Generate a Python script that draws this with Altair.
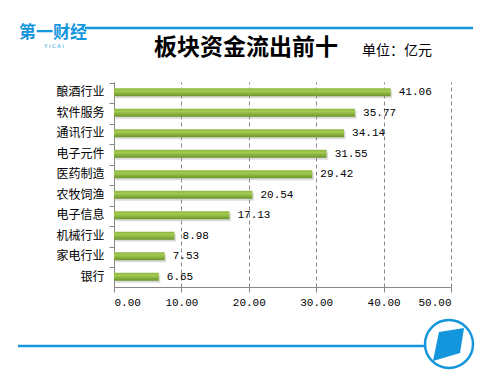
import altair as alt
import pandas as pd

categories = ["酿酒行业", "软件服务", "通讯行业", "电子元件", "医药制造",
              "农牧饲渔", "电子信息", "机械行业", "家电行业", "银行"]
values = [41.06, 35.77, 34.14, 31.55, 29.42, 20.54, 17.13, 8.98, 7.53, 6.65]
x_ticks = [0, 10, 20, 30, 40, 50]
title_text = "板块资金流出前十"
unit_text = "单位：亿元"
logo_text = "第一财经"
logo_sub = "Y I C A I"

df = pd.DataFrame({"cat": categories, "val": values,
                   "lab": [f"{v:.2f}" for v in values]})

W, H = 337, 205
BLUE = "#1496dc"
MONO = "Liberation Mono"
CJK = "Noto Sans CJK SC"

base = alt.Chart(df)

xenc = alt.X("val:Q", scale=alt.Scale(domain=[0, 50], nice=False),
             axis=alt.Axis(values=x_ticks, format=".2f", title=None,
                           grid=True, gridDash=[4, 3], gridColor="#888888",
                           domainColor="#888888", tickColor="#888888",
                           tickSize=5, labelFont=MONO, labelFontSize=11,
                           labelColor="#000000", labelPadding=4))
yenc = alt.Y("cat:N", sort=categories,
             axis=alt.Axis(title=None, grid=False, bandPosition=0,
                           domainColor="#888888",
                           tickColor="#888888", tickSize=5,
                           labelFont=CJK, labelFontSize=12,
                           labelColor="#000000", labelPadding=5))

shadow = base.mark_bar(size=8, yOffset=2, xOffset=1.5, color="#9a9a9a",
                       opacity=0.35).encode(x=xenc, y=yenc)

grad = alt.LinearGradient(
    gradient="linear",
    stops=[alt.GradientStop(color="#8db642", offset=0),
           alt.GradientStop(color="#a3ca50", offset=0.35),
           alt.GradientStop(color="#6a942b", offset=1)],
    x1=0, x2=0, y1=0, y2=1)

bars = base.mark_bar(size=8, color=grad).encode(x=xenc, y=yenc)

labels = base.mark_text(align="left", dx=8, font=MONO, fontSize=11,
                        color="#000000").encode(x="val:Q", y=alt.Y("cat:N", sort=categories), text="lab:N")

one = alt.Chart(alt.Data(values=[{"a": 1}]))

top_line = one.mark_rule(color=BLUE, strokeWidth=2.5).encode(
    x=alt.value(-29), x2=alt.value(359), y=alt.value(-54))
bottom_line = one.mark_rule(color=BLUE, strokeWidth=2.5).encode(
    x=alt.value(-96), x2=alt.value(311), y=alt.value(264))

title = one.mark_text(text=title_text, font=CJK, fontSize=23, fontWeight="bold",
                      color="#000000", align="center", baseline="middle").encode(
    x=alt.value(132), y=alt.value(-34))
unit = one.mark_text(text=unit_text, font=CJK, fontSize=14, color="#000000",
                     align="center", baseline="middle").encode(
    x=alt.value(283), y=alt.value(-31))
logo = one.mark_text(text=logo_text, font=CJK, fontSize=17, fontWeight="bold",
                     color=BLUE, align="center", baseline="middle").encode(
    x=alt.value(-61), y=alt.value(-49))
logo2 = one.mark_text(text=logo_sub, font="DejaVu Sans", fontSize=5,
                      color=BLUE, align="center", baseline="middle").encode(
    x=alt.value(-60), y=alt.value(-36))

circle = one.mark_point(shape="circle", size=2304, filled=False, color=BLUE,
                        strokeWidth=2.5, opacity=1).encode(
    x=alt.value(335), y=alt.value(262))
para = one.mark_point(shape="M -0.63 -0.75 L 0.94 -1 L 0.69 0.56 L -1 1.06 Z",
                      size=1024, filled=True, color=BLUE, opacity=1).encode(
    x=alt.value(335), y=alt.value(262))

chart = alt.layer(shadow, bars, labels, top_line, bottom_line, title, unit,
                  logo, logo2, circle, para).properties(
    width=W, height=H,
    autosize=alt.AutoSizeParams(type="none"),
    padding={"left": 106, "top": 74, "right": 42, "bottom": 91},
    background="#ffffff",
).configure_view(stroke=None)

chart.save("out.html", embed_options={"renderer": "svg", "actions": False})
